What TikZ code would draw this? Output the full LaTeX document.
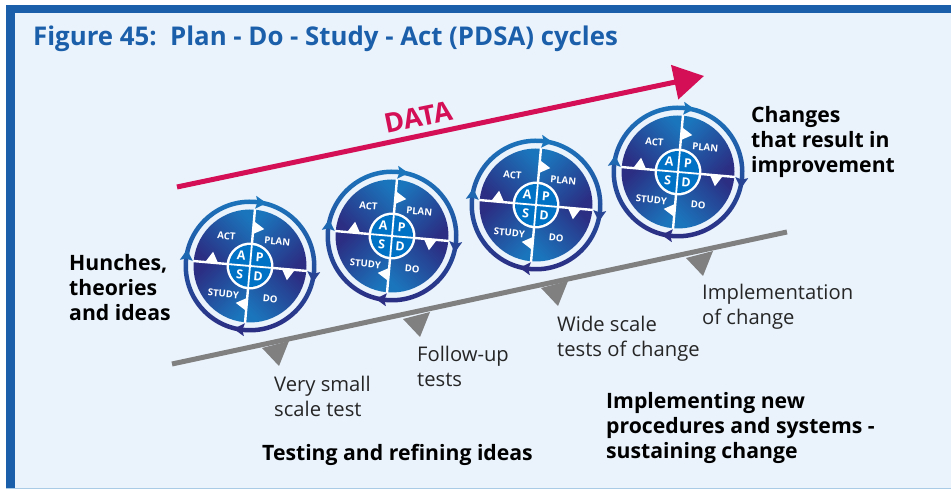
\documentclass[tikz,border=0pt]{standalone}
\usepackage{fontspec}
\setmainfont{Open Sans}
\usetikzlibrary{arrows.meta}

\definecolor{frameblue}{HTML}{1B5FAA}
\definecolor{panelblue}{HTML}{EAF3FC}
\definecolor{edgeblue}{HTML}{A9CBE6}
\definecolor{datared}{HTML}{D40F55}
\definecolor{wedgelight}{HTML}{1B75BC}
\definecolor{wedgedark}{HTML}{2B2E83}
\definecolor{hubblue}{HTML}{0072C6}
\colorlet{stepgray}{black!50}

\tikzset{
  wedgelabel/.style={text=white, font=\bfseries\fontsize{9.6}{9.6}\selectfont, rotate=-5, inner sep=0pt},
  hublabel/.style={text=white, font=\bfseries\fontsize{12.5}{12.5}\selectfont, rotate=-5, inner sep=0pt},
  boldnote/.style={anchor=north west, align=left, inner sep=0pt, text=black, font=\bfseries\fontsize{21.2}{25.3}\selectfont},
  plainnote/.style={anchor=north west, align=left, inner sep=0pt, text=black!85, font=\fontsize{20.2}{25.3}\selectfont},
}

\begin{document}
\begin{tikzpicture}[x=1pt, y=1pt]
  \useasboundingbox (0, 0) rectangle (951, 489);
  \fill[frameblue] (6, 1) rectangle (951, 484);
  \fill[panelblue] (15, 1) rectangle (951, 476);
  \fill[edgeblue] (6, 0) rectangle (951, 1);

  \node[anchor=base west, inner sep=0pt, text=frameblue, font=\bfseries\fontsize{25.8}{25.8}\selectfont] (title) at (33, 443)
    {Figure 45:\ \ Plan - Do - Study - Act (PDSA) cycles};

  % the rising arrow
  \coordinate (datastart) at (177, 302);
  \coordinate (dataend) at (704, 413);
  \draw[line width=5pt, color=datared, -{Triangle[length=30pt, width=34pt]}] (datastart) -- (dataend);
  \node[text=datared, font=\bfseries\fontsize{27}{27}\selectfont, rotate=11.5, inner sep=0pt] (data) at (418, 372) {DATA};

  % the slope and its steps
  \coordinate (slopestart) at (172, 125);
  \coordinate (slopeend) at (787, 257);
  \draw[line width=5pt, color=stepgray] (slopestart) -- (slopeend);
  \foreach \x/\y/\n in {279/123/a, 420/152/b, 558/183/c, 703/213/d} {
    \coordinate (tip\n) at (\x, \y);
    \fill[stepgray] (tip\n) -- ++(-17, 18) -- ++(27, 7) -- cycle;
  }

  % the wheels
  \foreach \cx/\cy/\n in {250/223/a, 392/253/b, 536/284/c, 678/317/d} {
    \begin{scope}[shift={(\cx, \cy)}, rotate=-5]
      \shade[even odd rule, top color=wedgelight, bottom color=wedgedark] (0, 0) circle (66.5) (0, 0) circle (62);
      \foreach \a/\c in {0/wedgelight, -90/wedgedark!70!wedgelight, -180/wedgedark, -270/wedgelight!80!wedgedark} {
        \fill[color=\c, rotate=\a] (0, 70.5) -- (11, 64) -- (0, 57.5) -- (2, 64) -- cycle;
      }
      \shade[top color=wedgelight, bottom color=wedgedark, shading angle=45] (0, 0) -- (0, 56.5) arc (90:0:56.5) -- cycle;
      \shade[top color=wedgelight, bottom color=wedgedark, shading angle=135] (0, 0) -- (56.5, 0) arc (0:-90:56.5) -- cycle;
      \shade[top color=wedgelight, bottom color=wedgedark, shading angle=225] (0, 0) -- (0, -56.5) arc (-90:-180:56.5) -- cycle;
      \shade[top color=wedgelight, bottom color=wedgedark, shading angle=-45] (0, 0) -- (-56.5, 0) arc (180:90:56.5) -- cycle;
      \draw[line width=2.4pt, color=white] (0, 57) -- (0, -57);
      \draw[line width=2.4pt, color=white] (-57, 0) -- (57, 0);
      \foreach \a in {0, -90, -180, -270} {
        \fill[color=white, rotate=\a] (0, 32) -- (11, 38) -- (0, 45) -- cycle;
      }
      \fill[color=white] (0, 0) circle (23.5);
      \fill[color=hubblue] (0, 0) circle (21);
      \draw[line width=1.8pt, color=white] (0, 21) -- (0, -21);
      \draw[line width=1.8pt, color=white] (-21, 0) -- (21, 0);
      \node[wedgelabel] (plan\n) at (25, 27) {PLAN};
      \node[wedgelabel] (do\n) at (23, -31) {DO};
      \node[wedgelabel] (study\n) at (-24, -30) {STUDY};
      \node[wedgelabel] (act\n) at (-26, 28) {ACT};
      \node[hublabel] (p\n) at (9, 9.5) {P};
      \node[hublabel] (d\n) at (9, -9.5) {D};
      \node[hublabel] (s\n) at (-9.5, -9.5) {S};
      \node[hublabel] (a\n) at (-9.5, 9.5) {A};
    \end{scope}
  }

  % the notes
  \node[boldnote] (hunches) at (69, 235) {Hunches,\\theories\\and ideas};
  \node[boldnote] (changes) at (751, 383) {Changes\\that result in\\improvement};
  \node[boldnote] (testing) at (262, 45) {Testing and refining ideas};
  \node[boldnote] (implementing) at (606, 97) {Implementing new\\procedures and systems -\\sustaining change};
  \node[plainnote] (verysmall) at (274, 113) {Very small\\scale test};
  \node[plainnote] (followup) at (417, 143) {Follow-up\\tests};
  \node[plainnote] (widescale) at (557, 173) {Wide scale\\tests of change};
  \node[plainnote] (implementation) at (702, 205) {Implementation\\of change};
\end{tikzpicture}
\end{document}
